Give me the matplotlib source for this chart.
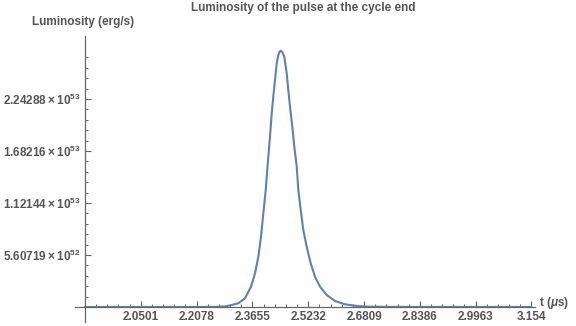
import numpy as np
import matplotlib.pyplot as plt
from matplotlib.ticker import FixedLocator

plt.rcParams['font.family'] = ['Liberation Sans', 'DejaVu Sans']
plt.rcParams['mathtext.fontset'] = 'custom'
plt.rcParams['mathtext.rm'] = 'Liberation Sans:bold'
plt.rcParams['mathtext.it'] = 'Liberation Sans:bold:italic'

# pulse luminosity (erg/s) against time (us)
t_us = [1.8924, 2.20, 2.2600, 2.2880, 2.3070, 2.3256, 2.3446, 2.3615, 2.3728, 2.3822,
        2.3898, 2.3963, 2.4031, 2.4059, 2.4104, 2.4152, 2.4200, 2.4245, 2.4293, 2.4341,
        2.4387, 2.4421, 2.4457, 2.4505, 2.4556, 2.4624, 2.4669, 2.4717, 2.4782, 2.4839,
        2.4907, 2.4952, 2.5020, 2.5093, 2.5189, 2.5302, 2.5424, 2.5565, 2.5754, 2.5989,
        2.6272, 2.6602, 2.6900, 2.7500, 3.154]
lum = [0.0, 0.0, 1.5e50, 6.0e50, 2.16e51, 3.99e51, 9.38e51, 2.19e52, 3.63e52, 5.42e52,
       7.58e52, 1.010e53, 1.262e53, 1.405e53, 1.621e53, 1.836e53, 2.089e53, 2.268e53, 2.448e53, 2.628e53,
       2.717e53, 2.750e53, 2.764e53, 2.744e53, 2.699e53, 2.520e53, 2.340e53, 2.160e53, 1.944e53, 1.729e53,
       1.513e53, 1.262e53, 1.046e53, 8.30e52, 6.50e52, 4.71e52, 3.27e52, 2.19e52, 1.29e52, 6.47e51,
       2.91e51, 1.08e51, 4.0e50, 1.0e50, 0.0]

x_ticks = [2.0501, 2.2078, 2.3655, 2.5232, 2.6809, 2.8386, 2.9963, 3.154]
y_ticks = [5.60719e52, 1.12144e53, 1.68216e53, 2.24288e53]
y_labels = [r'$5.60719\times10^{52}$', r'$1.12144\times10^{53}$',
            r'$1.68216\times10^{53}$', r'$2.24288\times10^{53}$']

t0, t1 = 1.8924, 3.154
lmax = max(lum)
gray = '#555555'
fs = 8.5

fig = plt.figure(figsize=(5.76, 3.26), dpi=100)
ax = fig.add_axes([75 / 576, 4 / 326, 460 / 576, 286 / 326])
ax.plot(t_us, lum, color='#5E81B5', lw=1.5, solid_joinstyle='round', clip_on=False)

ax.set_xlim(1.8641, 3.1641)
ax.set_ylim(-1.62e52, 2.922e53)

for s in ['top', 'right']:
    ax.spines[s].set_visible(False)
ax.spines['left'].set_position(('data', t0))
ax.spines['bottom'].set_position(('data', 0))
for s in ['left', 'bottom']:
    ax.spines[s].set_color('#666666')
    ax.spines[s].set_linewidth(0.9)

step = 0.1577
ax.xaxis.set_major_locator(FixedLocator(x_ticks))
ax.xaxis.set_minor_locator(FixedLocator(
    [t0 + step * k / 5 for k in range(41) if k % 5 and t0 + step * k / 5 <= t1]))
ax.set_xticklabels([f'{v:g}' for v in x_ticks])
ystep = y_ticks[0]
ax.yaxis.set_major_locator(FixedLocator(y_ticks))
ax.yaxis.set_minor_locator(FixedLocator(
    [ystep * k / 5 for k in range(1, 25) if k % 5 and ystep * k / 5 <= lmax]))
ax.set_yticklabels(y_labels)

ax.tick_params(which='major', direction='in', length=4, width=0.8, color='#666666',
               labelsize=fs, labelcolor=gray, pad=3)
ax.tick_params(which='minor', direction='in', length=2.2, width=0.7, color='#666666')
for lab in ax.get_xticklabels() + ax.get_yticklabels():
    lab.set_fontweight('bold')

fig.text(303 / 576, 1 - 8 / 326, 'Luminosity of the pulse at the cycle end', ha='center',
         va='center', fontsize=fs, fontweight='bold', color=gray)
fig.text(83 / 576, 1 - 22 / 326, 'Luminosity (erg/s)', ha='center', va='center',
         fontsize=fs, fontweight='bold', color=gray)
fig.text(539 / 576, 1 - 303 / 326, r't ($\mu$s)', ha='left', va='center',
         fontsize=fs, fontweight='bold', color=gray)

fig.savefig('out.png', dpi=100)
